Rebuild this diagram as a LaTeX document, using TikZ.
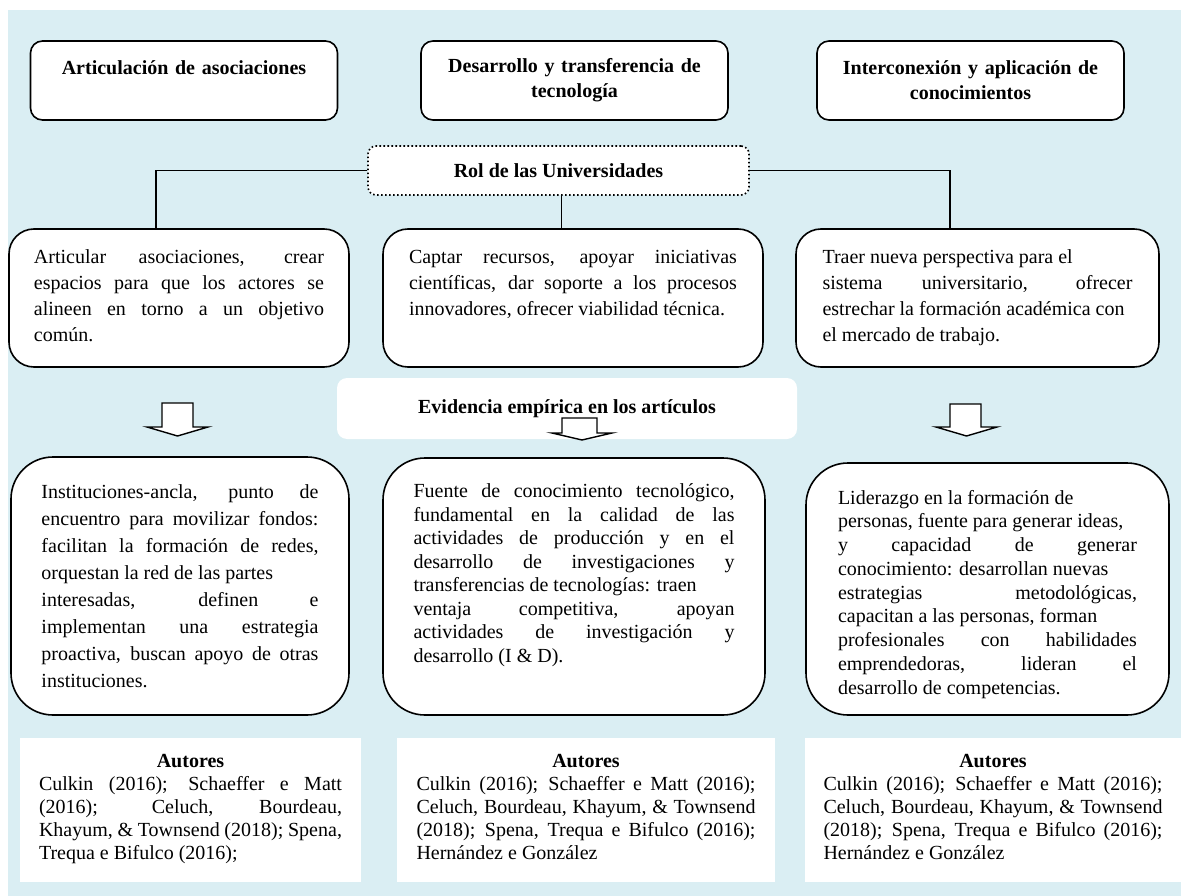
\documentclass[tikz,border=0pt]{standalone}
\usepackage{fontspec}
\setmainfont{Liberation Serif}
\hyphenpenalty=10000
\exhyphenpenalty=10000
\tolerance=10000
\newcommand{\bloque}[3]{\parbox[c][#1][t]{#2}{\strut #3}}
\begin{document}
\begin{tikzpicture}[x=1pt,y=-1pt,
    caja/.style={draw=black,line width=1.6pt,fill=white,inner sep=0pt},
    titulo/.style={caja,rounded corners=12pt,minimum width=307pt,minimum height=79pt,
      text width=290pt,align=center,font=\fontsize{20}{25}\selectfont\bfseries},
    rol/.style={draw=black,line width=1.6pt,dash pattern=on 1.6pt off 2.4pt,fill=white,
      rounded corners=8pt,minimum width=381pt,minimum height=49pt,
      font=\fontsize{20}{25}\selectfont\bfseries},
    medio/.style={caja,rounded corners=25pt,minimum height=138pt,font=\fontsize{20}{26}\selectfont},
    inferior/.style={caja,rounded corners=42pt},
    autores/.style={fill=white,inner sep=0pt,minimum height=144pt,font=\fontsize{20}{23}\selectfont},
    evidencia/.style={fill=white,rounded corners=10pt,minimum width=460pt,minimum height=61pt,
      font=\fontsize{20}{25}\selectfont\bfseries},
    enlace/.style={line width=1.6pt},
    flecha/.style={draw=black,line width=1.4pt,fill=white,line join=miter}]

    \useasboundingbox (0,0) rectangle (1181,896);

    % Changing color 218 238 243
    \definecolor{fondo}{RGB}{218,238,243}%

    % Filling background
    \fill[fondo] (8,10) rectangle (1181,896);

    % Top boxes
    \node[titulo] (art) at (184,80.5) {Articulación de asociaciones\\ \mbox{}};
    \node[titulo] (des) at (574.5,80.5) {Desarrollo y transferencia de\\tecnología};
    \node[titulo] (int) at (970.5,80.5) {Interconexión y aplicación de\\conocimientos};

    % Role of the universities
    \node[rol] (rol) at (558.5,170.5) {Rol de las Universidades};

    % Middle boxes
    \node[medio,minimum width=340pt] (m1) at (179,298) {\bloque{106pt}{290pt}{Articular asociaciones, crear\linebreak espacios para que los actores se\linebreak alineen en torno a un objetivo\linebreak común.}};
    \node[medio,minimum width=380pt] (m2) at (573,298) {\bloque{106pt}{328pt}{Captar recursos, apoyar iniciativas\linebreak científicas, dar soporte a los procesos\linebreak innovadores, ofrecer viabilidad técnica.}};
    \node[medio,minimum width=363pt] (m3) at (977.5,298) {\bloque{106pt}{310pt}{Traer nueva perspectiva para el\newline sistema universitario, ofrecer\linebreak \mbox{estrechar la formación académica con}\newline el mercado de trabajo.}};

    % Connectors
    \draw[enlace] (rol.west) -| ([xshift=-23pt]m1.north);
    \draw[enlace] ([xshift=3pt]rol.south) -- ([xshift=3pt]rol.south |- m2.north);
    \draw[enlace] (rol.east) -| ([xshift=-27.5pt]m3.north);

    % Empirical evidence
    \node[evidencia] (evid) at (567,408.5) {Evidencia empírica en los artículos};

    % Block arrows
    \draw[flecha] (162,403) -- (193,403) -- (193,427) -- (208,427) -- (177.5,436) -- (147,427) -- (162,427) -- cycle;
    \draw[flecha] (562,418) -- (597,418) -- (597,433) -- (612,433) -- (582,440) -- (552,433) -- (562,433) -- cycle;
    \draw[flecha] (950,404) -- (981,404) -- (981,427) -- (997,427) -- (966.5,436) -- (936,427) -- (950,427) -- cycle;

    % Bottom boxes
    \node[inferior,minimum width=338pt,minimum height=258pt,font=\fontsize{20}{27}\selectfont] (b1) at (180,586) {\bloque{212pt}{277pt}{Instituciones-ancla, punto de\linebreak encuentro para movilizar fondos:\linebreak facilitan la formación de redes,\linebreak orquestan la red de las partes\newline interesadas, definen e\linebreak implementan una estrategia\linebreak proactiva, buscan apoyo de otras\linebreak instituciones.}};
    \node[inferior,minimum width=382pt,minimum height=257pt,font=\fontsize{20}{23.5}\selectfont] (b2) at (574,586.5) {\bloque{210pt}{321pt}{Fuente de conocimiento tecnológico,\linebreak fundamental en la calidad de las\linebreak actividades de producción y en el\linebreak desarrollo de investigaciones y\linebreak transferencias de tecnologías: traen\newline ventaja competitiva, apoyan\linebreak actividades de investigación y\linebreak desarrollo (I \& D).}};
    \node[inferior,minimum width=363pt,minimum height=252pt,font=\fontsize{20}{23.75}\selectfont] (b3) at (987.5,589) {\bloque{203pt}{299pt}{Liderazgo en la formación de\newline personas, fuente para generar ideas,\newline y capacidad de generar\linebreak conocimiento: desarrollan nuevas\newline estrategias metodológicas,\linebreak capacitan a las personas, forman\newline profesionales con habilidades\linebreak emprendedoras, lideran el\linebreak desarrollo de competencias.}};

    % Authors
    \node[autores,minimum width=341pt] (a1) at (190.5,810) {\bloque{118pt}{303pt}{{\centering\textbf{Autores}\par}Culkin (2016); Schaeffer e Matt\linebreak (2016); Celuch, Bourdeau,\linebreak Khayum, \& Townsend (2018); Spena,\linebreak Trequa e Bifulco (2016);}};
    \node[autores,minimum width=378pt] (a2) at (586,810) {\bloque{118pt}{339pt}{{\centering\textbf{Autores}\par}Culkin (2016); Schaeffer e Matt (2016);\linebreak Celuch, Bourdeau, Khayum, \& Townsend\linebreak (2018); Spena, Trequa e Bifulco (2016);\linebreak Hernández e González}};
    \node[autores,minimum width=376pt] (a3) at (993,810) {\bloque{118pt}{339pt}{{\centering\textbf{Autores}\par}Culkin (2016); Schaeffer e Matt (2016);\linebreak Celuch, Bourdeau, Khayum, \& Townsend\linebreak (2018); Spena, Trequa e Bifulco (2016);\linebreak Hernández e González}};
\end{tikzpicture}
\end{document}
